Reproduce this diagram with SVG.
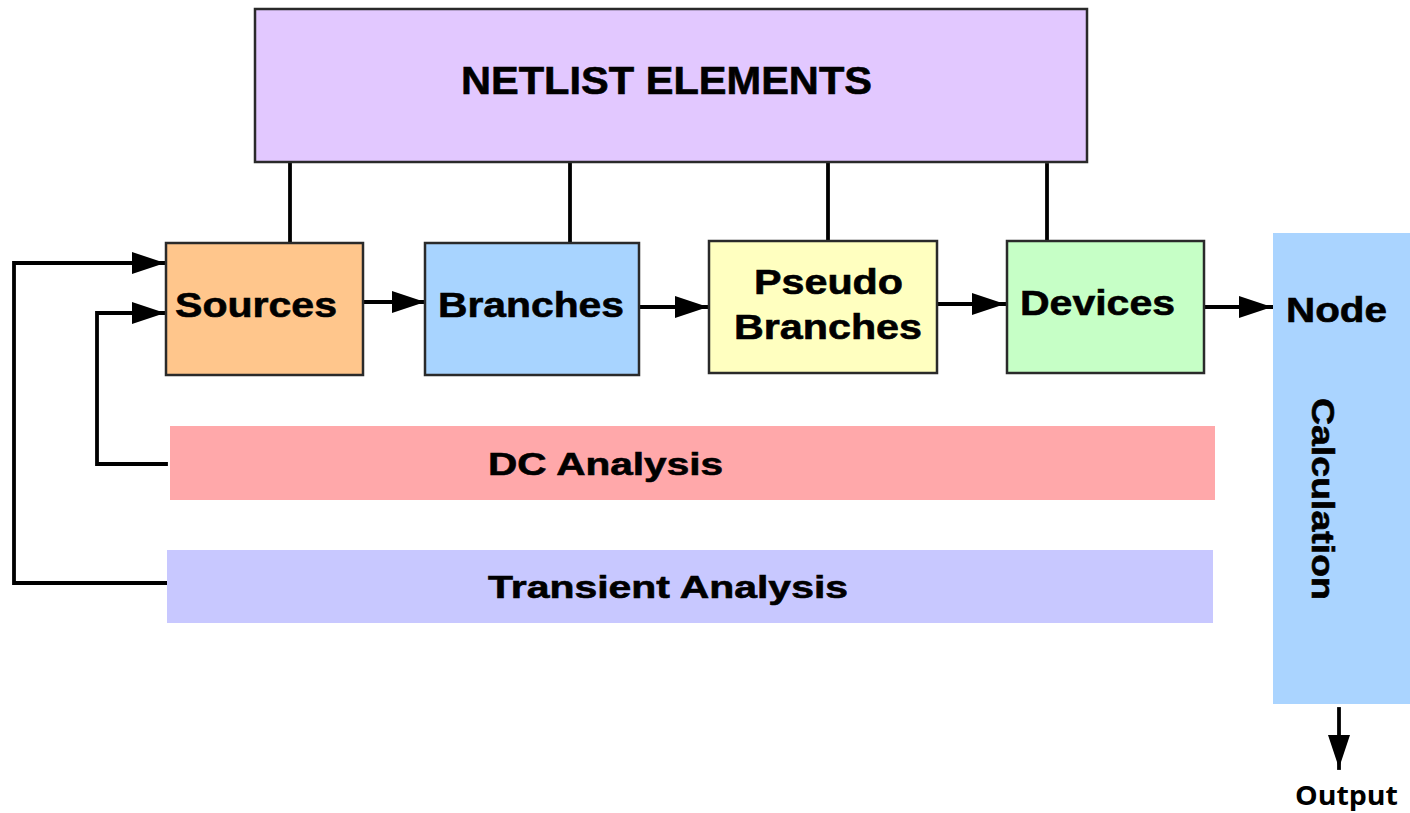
<svg xmlns="http://www.w3.org/2000/svg" width="1410" height="813" viewBox="0 0 1410 813">
  <style>
    .box { stroke: #2a2a2a; stroke-width: 2.5; }
    .bar { stroke: none; }
    .lbl { font-family: "Liberation Sans", Arial, sans-serif; font-weight: bold; fill: #000; stroke: #000; stroke-width: 0.6; }
    .wire { fill: none; stroke: #000; stroke-width: 3.8; stroke-linecap: square; stroke-linejoin: miter; }
    .arrow { marker-end: url(#head); }
  </style>
  <defs>
    <marker id="head" markerUnits="userSpaceOnUse" markerWidth="34" markerHeight="24" refX="33" refY="12" orient="auto" viewBox="0 0 34 24">
      <path d="M0,1 L33,12 L0,23 z" fill="#000"/>
    </marker>
  </defs>
  <rect width="1410" height="813" fill="#ffffff"/>

  <!-- connectors -->
  <g id="connectors">
    <!-- netlist element feeds -->
    <line class="wire" x1="290" y1="162" x2="290" y2="242"/>
    <line class="wire" x1="570" y1="162" x2="570" y2="242"/>
    <line class="wire" x1="828" y1="162" x2="828" y2="240"/>
    <line class="wire" x1="1047" y1="165" x2="1047" y2="240"/>
    <!-- processing chain -->
    <line class="wire arrow" x1="364" y1="302" x2="425" y2="302"/>
    <line class="wire arrow" x1="640" y1="307" x2="708" y2="307"/>
    <line class="wire arrow" x1="938" y1="304" x2="1005" y2="304"/>
    <line class="wire arrow" x1="1206" y1="307" x2="1272" y2="307"/>
    <!-- analysis feedback loops -->
    <path class="wire arrow" d="M166,583 H14 V263 H165"/>
    <path class="wire arrow" d="M166,464 H97 V313 H165"/>
    <!-- result -->
    <line class="wire arrow" x1="1339" y1="709" x2="1339" y2="768"/>
  </g>

  <g id="netlist">
    <rect class="box" x="255" y="9" width="832" height="153" fill="#e2c8ff"/>
    <text class="lbl" x="461" y="94" font-size="38" textLength="411" lengthAdjust="spacingAndGlyphs">NETLIST ELEMENTS</text>
  </g>

  <g id="sources">
    <rect class="box" x="166" y="243" width="197" height="132" fill="#ffc68c"/>
    <text class="lbl" x="175" y="317" font-size="35" textLength="162" lengthAdjust="spacingAndGlyphs">Sources</text>
  </g>

  <g id="branches">
    <rect class="box" x="425" y="243" width="214" height="132" fill="#a8d4ff"/>
    <text class="lbl" x="438" y="317" font-size="35" textLength="186" lengthAdjust="spacingAndGlyphs">Branches</text>
  </g>

  <g id="pseudo-branches">
    <rect class="box" x="709" y="241" width="228" height="132" fill="#ffffc0"/>
    <text class="lbl" x="754" y="294" font-size="35" textLength="149" lengthAdjust="spacingAndGlyphs">Pseudo</text>
    <text class="lbl" x="734" y="339" font-size="35" textLength="188" lengthAdjust="spacingAndGlyphs">Branches</text>
  </g>

  <g id="devices">
    <rect class="box" x="1007" y="241" width="197" height="132" fill="#c6ffc6"/>
    <text class="lbl" x="1020" y="315" font-size="35" textLength="155" lengthAdjust="spacingAndGlyphs">Devices</text>
  </g>

  <g id="dc-analysis">
    <rect class="bar" x="170" y="426" width="1045" height="74" fill="#ffa8aa"/>
    <text class="lbl" x="488" y="475" font-size="31" textLength="235" lengthAdjust="spacingAndGlyphs">DC Analysis</text>
  </g>

  <g id="transient-analysis">
    <rect class="bar" x="167" y="550" width="1046" height="73" fill="#c8c8ff"/>
    <text class="lbl" x="488" y="598" font-size="31" textLength="360" lengthAdjust="spacingAndGlyphs">Transient Analysis</text>
  </g>

  <g id="node-calculation">
    <rect class="bar" x="1273" y="233" width="137" height="471" fill="#aad4ff"/>
    <text class="lbl" x="1286" y="322" font-size="35" textLength="101" lengthAdjust="spacingAndGlyphs">Node</text>
    <text class="lbl" transform="translate(1312,398) rotate(90)" x="0" y="0" font-size="32" textLength="202" lengthAdjust="spacingAndGlyphs">Calculation</text>
  </g>

  <g id="output">
    <text x="1295" y="805" font-family="'Open Sans', 'DejaVu Sans', sans-serif" font-weight="bold" font-size="27" textLength="103" lengthAdjust="spacingAndGlyphs" fill="#000">Output</text>
  </g>
</svg>
